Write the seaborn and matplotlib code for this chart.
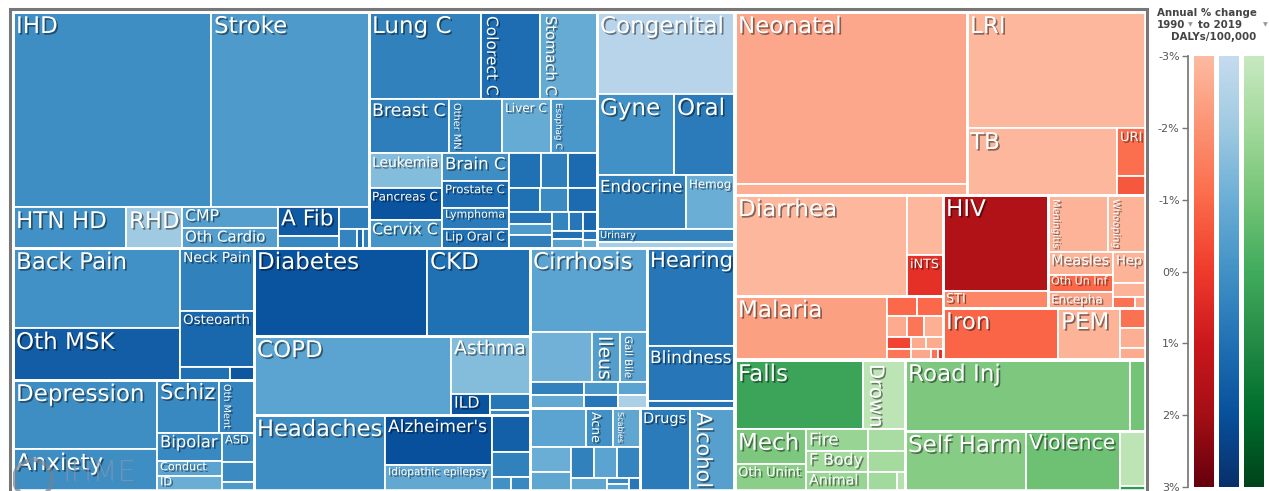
import numpy as np
import matplotlib
matplotlib.use('Agg')
import matplotlib.pyplot as plt
import matplotlib.patheffects as pe
from matplotlib.patches import Rectangle, Circle
from matplotlib.colors import ListedColormap
from matplotlib.textpath import TextPath
from matplotlib.font_manager import FontProperties
import seaborn as sns

sns.set_theme(style='white')
plt.rcParams['font.family'] = ['DejaVu Sans']

# Non-communicable diseases (blue): cause, DALY area, annual % change
ncd_names = ['IHD', 'Stroke', 'HTN HD', 'RHD', 'CMP', 'Oth Cardio', 'A Fib', 'Non-rheum valv', 'PAD',
             'Aortic An', 'Endocarditis', 'Myocarditis',
             'Lung C', 'Colorect C', 'Stomach C', 'Breast C', 'Other MN', 'Liver C', 'Esophag C',
             'Leukemia', 'Pancreas C', 'Cervix C', 'Brain C', 'Prostate C', 'Lymphoma', 'Lip Oral C',
             'Ovarian C', 'Kidney C', 'Bladder C', 'Myeloma', 'Uterine C', 'Larynx C', 'Gallbladder C',
             'Nasophar C', 'Oth Phar C', 'Melanoma', 'Thyroid C', 'NMSC', 'Testic C', 'Mesothel',
             'Hodgkin L', 'Bone C',
             'Congenital', 'Gyne', 'Oral', 'Endocrine', 'Hemog', 'Urinary', 'Oth NCD',
             'Back Pain', 'Oth MSK', 'Neck Pain', 'Osteoarth', 'RA', 'Gout',
             'Depression', 'Anxiety', 'Schiz', 'Oth Ment', 'Bipolar', 'Conduct', 'ID', 'ASD', 'Eating', 'ADHD',
             'Diabetes', 'CKD', 'COPD', 'Asthma', 'ILD', 'Pneumocon', 'Oth Resp',
             'Headaches', "Alzheimer's", 'Idiopathic epilepsy', "Parkinson's", 'MS', 'MND', 'Oth Neuro',
             'Cirrhosis', 'Upper Dig', 'Ileus', 'Gall Bile', 'Pancreatitis', 'Appendicitis', 'Hernia',
             'Vasc Intest', 'IBD', 'Oth Digest',
             'Hearing', 'Blindness', 'Oth Sense',
             'Dermatitis', 'Acne', 'Scabies', 'Psoriasis', 'Urticaria', 'Fungal Skin', 'Bact Skin',
             'Pruritus', 'Viral Skin', 'Alopecia', 'Decubitus', 'Oth Skin',
             'Drugs', 'Alcohol']
ncd_dalys = [38610, 30810, 4633, 2296, 2016, 1920, 1769, 732, 660, 342, 114, 114,
             9744, 5133, 4959, 4320, 2862, 2646, 2484, 2555, 2336, 2044, 1876, 1809, 1407, 1273,
             1120, 945, 1015, 744, 672, 696, 516, 473, 559, 323, 266, 266, 248, 279, 126, 112,
             11316, 6237, 4941, 4806, 2646, 1794, 828,
             13360, 8684, 4662, 4144, 650, 312,
             9936, 6048, 3286, 1855, 1820, 975, 975, 928, 640, 288,
             15224, 9064, 15563, 4582, 819, 640, 200,
             9956, 5350, 2782, 1406, 950, 266, 266,
             9828, 3100, 1400, 1350, 702, 702, 442, 442, 377, 377,
             8624, 4840, 616,
             2184, 1053, 1053, 1025, 779, 713, 713, 713, 468, 132, 154, 143,
             4150, 3735]
ncd_change = [0.1, -0.3, 0.0, -2.0, -0.4, -0.4, 1.7, 0.3, 0.6, 0.4, 1.2, 0.5,
              0.5, 1.1, -0.9, 0.6, 0.3, -0.9, -0.2, -1.5, 1.9, -0.1, 0.1, 1.2, 0.7, 1.0,
              1.0, 0.6, 1.2, 1.0, 0.2, 1.2, 0.9, -0.3, 0.6, 0.4, 0.8, 1.3, 1.0, -0.5, 0.8, -1.0,
              -2.6, 0.0, 0.7, 0.5, -1.0, 0.5, -2.2,
              0.0, 1.6, 0.5, 1.3, 1.0, 1.8,
              0.1, 0.1, 0.3, 0.4, 0.3, -0.6, -1.0, 0.1, 0.2, -0.3,
              1.9, 1.0, -0.6, -1.5, 1.9, 0.8, 0.3,
              0.1, 2.0, -0.8, 1.5, 0.5, 0.0, 0.3,
              -0.6, -1.1, -0.4, -0.6, 0.5, -0.8, -0.2, 0.8, -0.6, -2.3,
              0.8, 0.8, 0.9,
              -0.6, 0.0, -0.7, -1.0, -0.7, 0.5, -0.6, 0.4, -0.7, 0.3, -0.5, 0.8,
              0.7, -0.5]

# Communicable, maternal, neonatal & nutritional (red)
cmnn_names = ['Neonatal', 'Oth Neonatal', 'LRI', 'TB', 'URI', 'Otitis',
              'Diarrhea', 'Typhoid', 'iNTS', 'Malaria',
              'Schisto', 'Leish', 'Dengue', 'Worms', 'Rabies', 'LF', 'Oncho', 'Trachoma', 'Chagas',
              'Yellow Fever', 'Zika', 'Ebola',
              'HIV', 'STI', 'Meningitis', 'Whooping', 'Measles', 'Oth Un Inf', 'Encepha', 'Hep',
              'Tetanus', 'Diphtheria', 'Varicella',
              'Iron', 'PEM', 'Iodine', 'Vit A', 'Oth Nutr']
cmnn_dalys = [39904, 2552, 20764, 10050, 1392, 551,
              17372, 2160, 1476, 9728,
              600, 520, 420, 357, 399, 288, 264, 180, 204, 220, 77, 55,
              10080, 1785, 3420, 2166, 1495, 1105, 1040, 1023, 462, 242, 121,
              5980, 3224, 520, 520, 312]
cmnn_change = [-2.5, -2.7, -2.9, -2.9, -1.1, -0.6,
               -2.9, -2.9, 0.3, -2.3,
               -1.0, -1.0, -2.6, -1.3, -2.7, -0.2, -1.3, -2.6, -2.6, -2.5, -1.2, 0.3,
               1.7, -1.7, -2.8, -2.8, -2.8, -1.0, -2.5, -2.8, -2.8, -1.2, -2.5,
               -0.9, -2.8, -1.2, -2.7, -2.6]

# Injuries (green)
inj_names = ['Falls', 'Drown', 'Mech', 'Oth Unint', 'Fire', 'F Body', 'Animal', 'Poisoning',
             'Nat Disaster', 'Envir Heat', 'Adverse Eff', 'Road Inj', 'Oth Transport',
             'Self Harm', 'Violence', 'Conflict', 'Police']
inj_dalys = [8832, 2898, 2485, 1917, 1364, 1302, 1178, 814, 777, 551, 152, 15975, 1136,
             7260, 5640, 1430, 130]
inj_change = [0.2, -2.7, -1.2, -1.5, -1.8, -2.0, -1.8, -2.2, -2.1, -2.0, -2.5, -1.2, -1.0,
              -1.4, -0.9, -2.7, 0.5]

shown = ['IHD', 'Stroke', 'HTN HD', 'RHD', 'CMP', 'Oth Cardio', 'A Fib', 'Lung C', 'Colorect C',
         'Stomach C', 'Breast C', 'Other MN', 'Liver C', 'Esophag C', 'Leukemia', 'Pancreas C',
         'Cervix C', 'Brain C', 'Prostate C', 'Lymphoma', 'Lip Oral C', 'Congenital', 'Gyne', 'Oral',
         'Endocrine', 'Hemog', 'Urinary', 'Back Pain', 'Neck Pain', 'Oth MSK', 'Osteoarth',
         'Depression', 'Anxiety', 'Schiz', 'Oth Ment', 'Bipolar', 'ASD', 'Conduct', 'ID', 'Diabetes',
         'CKD', 'COPD', 'Asthma', 'ILD', 'Headaches', "Alzheimer's", 'Idiopathic epilepsy',
         'Cirrhosis', 'Ileus', 'Gall Bile', 'Hearing', 'Blindness', 'Acne', 'Scabies', 'Drugs',
         'Alcohol', 'Neonatal', 'LRI', 'TB', 'URI', 'Diarrhea', 'iNTS', 'HIV', 'Meningitis',
         'Whooping', 'Measles', 'Hep', 'Oth Un Inf', 'Encepha', 'STI', 'Malaria', 'Iron', 'PEM',
         'Falls', 'Drown', 'Road Inj', 'Mech', 'Fire', 'Oth Unint', 'F Body', 'Animal',
         'Self Harm', 'Violence']
vertical = ['Colorect C', 'Stomach C', 'Other MN', 'Esophag C', 'Oth Ment', 'Ileus', 'Gall Bile',
            'Acne', 'Scabies', 'Alcohol', 'Meningitis', 'Whooping', 'Drown']

# treemap nesting: 'h' = side by side, 'v' = stacked
cardio = ('v', [('h', ['IHD', 'Stroke']),
                ('h', ['HTN HD', 'RHD', ('v', ['CMP', 'Oth Cardio']), ('v', ['A Fib', 'Non-rheum valv']),
                       ('v', ['PAD', ('h', ['Aortic An', 'Endocarditis', 'Myocarditis'])])])])
neoplasm = ('v', [('h', ['Lung C', 'Colorect C', 'Stomach C']),
                  ('h', ['Breast C', 'Other MN', 'Liver C', 'Esophag C']),
                  ('h', [('v', ['Leukemia', 'Pancreas C', 'Cervix C']),
                         ('v', ['Brain C', 'Prostate C', 'Lymphoma', 'Lip Oral C']),
                         ('v', [('h', ['Ovarian C', 'Kidney C', 'Bladder C']),
                                ('h', ['Myeloma', 'Uterine C', 'Larynx C']),
                                ('h', [('v', ['Gallbladder C', 'Nasophar C', 'Oth Phar C']),
                                       ('v', [('h', ['Melanoma', 'Thyroid C', 'NMSC']),
                                              ('h', [('v', ['Testic C', 'Mesothel']),
                                                     ('v', ['Hodgkin L', 'Bone C'])])])])])])])
other_ncd = ('v', ['Congenital', ('h', ['Gyne', 'Oral']), ('h', ['Endocrine', 'Hemog']), 'Urinary', 'Oth NCD'])
msk = ('h', [('v', ['Back Pain', 'Oth MSK']), ('v', ['Neck Pain', 'Osteoarth', ('h', ['RA', 'Gout'])])])
mental = ('h', [('v', ['Depression', 'Anxiety']),
                ('v', [('h', ['Schiz', 'Oth Ment']),
                       ('h', [('v', ['Bipolar', 'Conduct', 'ID']), ('v', ['ASD', 'Eating', 'ADHD'])])])])
diab = ('h', ['Diabetes', 'CKD'])
resp = ('h', ['COPD', ('v', ['Asthma', ('h', ['ILD', ('v', ['Pneumocon', 'Oth Resp'])])])])
neuro = ('h', ['Headaches', ('v', ["Alzheimer's", 'Idiopathic epilepsy']),
               ('v', ["Parkinson's", 'MS', ('h', ['MND', 'Oth Neuro'])])])
digest = ('v', ['Cirrhosis', ('h', ['Upper Dig', 'Ileus', 'Gall Bile']),
                ('h', [('v', ['Pancreatitis', 'Appendicitis']), ('v', ['Hernia', 'Vasc Intest']),
                       ('v', ['IBD', 'Oth Digest'])])])
sense = ('v', ['Hearing', 'Blindness', 'Oth Sense'])
skin = ('v', [('h', ['Dermatitis', 'Acne', 'Scabies']),
              ('h', [('v', ['Psoriasis', 'Urticaria']),
                     ('v', [('h', ['Fungal Skin', 'Bact Skin', 'Pruritus']),
                            ('h', ['Viral Skin', ('v', ['Alopecia', 'Decubitus']), 'Oth Skin'])])])])
subst = ('h', ['Drugs', 'Alcohol'])
ncd = ('v', [('h', [cardio, neoplasm, other_ncd]),
             ('h', [('v', [msk, mental]), ('v', [diab, resp, neuro]),
                    ('v', [('h', [digest, sense]), ('h', [skin, subst])])])])

neonatal = ('v', ['Neonatal', 'Oth Neonatal'])
resp_inf = ('v', ['LRI', ('h', ['TB', ('v', ['URI', 'Otitis'])])])
enteric = ('h', ['Diarrhea', ('v', ['Typhoid', 'iNTS'])])
ntd = ('h', ['Malaria', ('v', [('h', ['Schisto', 'Leish']), ('h', ['Dengue', 'Worms', 'Rabies']),
                               ('h', [('v', ['LF', 'Oncho']),
                                      ('v', [('h', ['Trachoma', 'Chagas']),
                                             ('h', ['Yellow Fever', 'Zika', 'Ebola'])])])])])
hiv = ('v', ['HIV', 'STI'])
oth_inf = ('v', [('h', ['Meningitis', 'Whooping']),
                 ('h', [('v', ['Measles', 'Oth Un Inf', 'Encepha']),
                        ('v', ['Hep', 'Tetanus', ('h', ['Diphtheria', 'Varicella'])])])])
nutr = ('h', ['Iron', 'PEM', ('v', ['Iodine', 'Vit A', 'Oth Nutr'])])
cmnn = ('v', [('h', [neonatal, resp_inf]),
              ('h', [('v', [enteric, ntd]), ('v', [('h', [hiv, oth_inf]), nutr])])])

unint = ('v', [('h', ['Falls', 'Drown']),
               ('h', [('v', ['Mech', 'Oth Unint']), ('v', ['Fire', 'F Body', 'Animal']),
                      ('v', ['Poisoning', 'Nat Disaster', ('h', ['Envir Heat', 'Adverse Eff'])])])])
transport = ('h', ['Road Inj', 'Oth Transport'])
violence = ('h', ['Self Harm', 'Violence', ('v', ['Conflict', 'Police'])])
injuries = ('h', [unint, ('v', [transport, violence])])

root = ('h', [ncd, ('v', [cmnn, injuries])])
groups = [cardio, neoplasm, other_ncd, msk, mental, diab, resp, neuro, digest, sense, skin, subst,
          neonatal, resp_inf, enteric, ntd, hiv, oth_inf, nutr, unint, transport, violence]

value, change, family = {}, {}, {}
for fam, nm, vals, chg in [('ncd', ncd_names, ncd_dalys, ncd_change),
                           ('cmnn', cmnn_names, cmnn_dalys, cmnn_change),
                           ('inj', inj_names, inj_dalys, inj_change)]:
    for n, v, c in zip(nm, vals, chg):
        value[n], change[n], family[n] = v, c, fam


def total(node):
    if isinstance(node, str):
        return value[node]
    return sum(total(k) for k in node[1])


rects = {}


def split(node, x, y, w, h):
    rects[node if isinstance(node, str) else id(node)] = (x, y, w, h)
    if isinstance(node, str):
        return
    orient, kids = node
    tot = total(node)
    off = 0.0
    for k in kids:
        f = total(k) / tot
        if orient == 'h':
            split(k, x + off * w, y, f * w, h)
        else:
            split(k, x, y + off * h, w, f * h)
        off += f


W, H = 1133, 479
split(root, 0, 0, W, H)


def trunc(name):
    base = sns.color_palette(name, as_cmap=True)
    return ListedColormap(base(np.linspace(0.25, 1.0, 256)))


cmaps = {'ncd': trunc('Blues'), 'cmnn': trunc('Reds'), 'inj': trunc('Greens')}

fig = plt.figure(figsize=(12.69, 4.91), dpi=100)
ax = fig.add_axes([13 / 1269, 0, W / 1269, H / 491])
ax.set_xlim(0, W)
ax.set_ylim(H, 0)
ax.axis('off')

for n in value:
    x, y, w, h = rects[n]
    col = cmaps[family[n]]((change[n] + 3) / 6)
    ax.add_patch(Rectangle((x, y), w, h, facecolor=col, edgecolor='white', lw=1.3))
for g in groups:
    x, y, w, h = rects[id(g)]
    ax.add_patch(Rectangle((x, y), w, h, facecolor='none', edgecolor='white', lw=2.0))
for g in [ncd, cmnn, injuries]:
    x, y, w, h = rects[id(g)]
    ax.add_patch(Rectangle((x, y), w, h, facecolor='none', edgecolor='white', lw=2.6))

fp = FontProperties(family='DejaVu Sans')
shadow = [pe.SimplePatchShadow(offset=(1.2, -1.2), shadow_rgbFace='black', alpha=0.45), pe.Normal()]
for n in shown:
    x, y, w, h = rects[n]
    rot = n in vertical
    along, across = (h, w) if rot else (w, h)
    em = TextPath((0, 0), n, size=1, prop=fp).get_extents().width
    px = min(23, 0.75 * across, (along - 9) / em)
    if rot:
        ax.text(x + 3, y + 4, n, rotation=270, ha='left', va='top', fontsize=px * 0.72,
                color='white', path_effects=shadow)
    else:
        ax.text(x + 3, y + min(3, 0.08 * h), n, ha='left', va='top', fontsize=px * 0.72,
                color='white', path_effects=shadow)

# IHME watermark
ax.add_patch(Circle((20, 467), 19, facecolor='none', edgecolor='#6f8498', lw=3, alpha=0.7, zorder=5))
ax.text(50, 461, 'IHME', fontsize=21, color='#8095aa', alpha=0.75, ha='left', va='center',
        fontweight='light', zorder=5)

# colour legend
cax = fig.add_axes([1188 / 1269, 4 / 491, 76 / 1269, 431 / 491])
grad = np.linspace(-3, 3, 256).reshape(-1, 1)
for i, fam in enumerate(['cmnn', 'ncd', 'inj']):
    left = 6 + 25 * i
    cax.imshow(grad, cmap=cmaps[fam], vmin=-3, vmax=3, extent=(left, left + 20, 3, -3),
               aspect='auto', origin='upper')
cax.set_xlim(0, 76)
cax.set_ylim(3, -3)
for s in ['top', 'right', 'bottom']:
    cax.spines[s].set_visible(False)
cax.spines['left'].set_color('#777777')
cax.set_xticks([])
ticks = [-3, -2, -1, 0, 1, 2, 3]
cax.set_yticks(ticks)
cax.set_yticklabels([f'{t}%' for t in ticks])
cax.tick_params(axis='y', left=True, length=4, width=1, color='#777777', labelsize=8,
                labelcolor='#555555', pad=2)

fig.text(1157 / 1269, 1 - 12.5 / 491, 'Annual % change', fontsize=7.4, fontweight='bold',
         color='#444444', ha='left', va='center')
fig.text(1157 / 1269, 1 - 24.5 / 491, '1990', fontsize=7.4, fontweight='bold',
         color='#444444', ha='left', va='center')
fig.text(1190 / 1269, 1 - 24.5 / 491, '\u25bc', fontsize=4.5, color='#999999', ha='center', va='center')
fig.text(1198 / 1269, 1 - 24.5 / 491, 'to 2019', fontsize=7.4, fontweight='bold',
         color='#444444', ha='left', va='center')
fig.text(1265 / 1269, 1 - 24.5 / 491, '\u25bc', fontsize=4.5, color='#999999', ha='center', va='center')
fig.text(1214 / 1269, 1 - 36.5 / 491, 'DALYs/100,000', fontsize=7.4, fontweight='bold',
         color='#444444', ha='center', va='center')

# outer frame
fig.add_artist(Rectangle((9.5 / 1269, -0.02), (1147 - 9.5) / 1269, 1.02 - 9.5 / 491,
                         transform=fig.transFigure, facecolor='none', edgecolor='#777777', lw=2.2))

fig.savefig('out.png', dpi=100)
